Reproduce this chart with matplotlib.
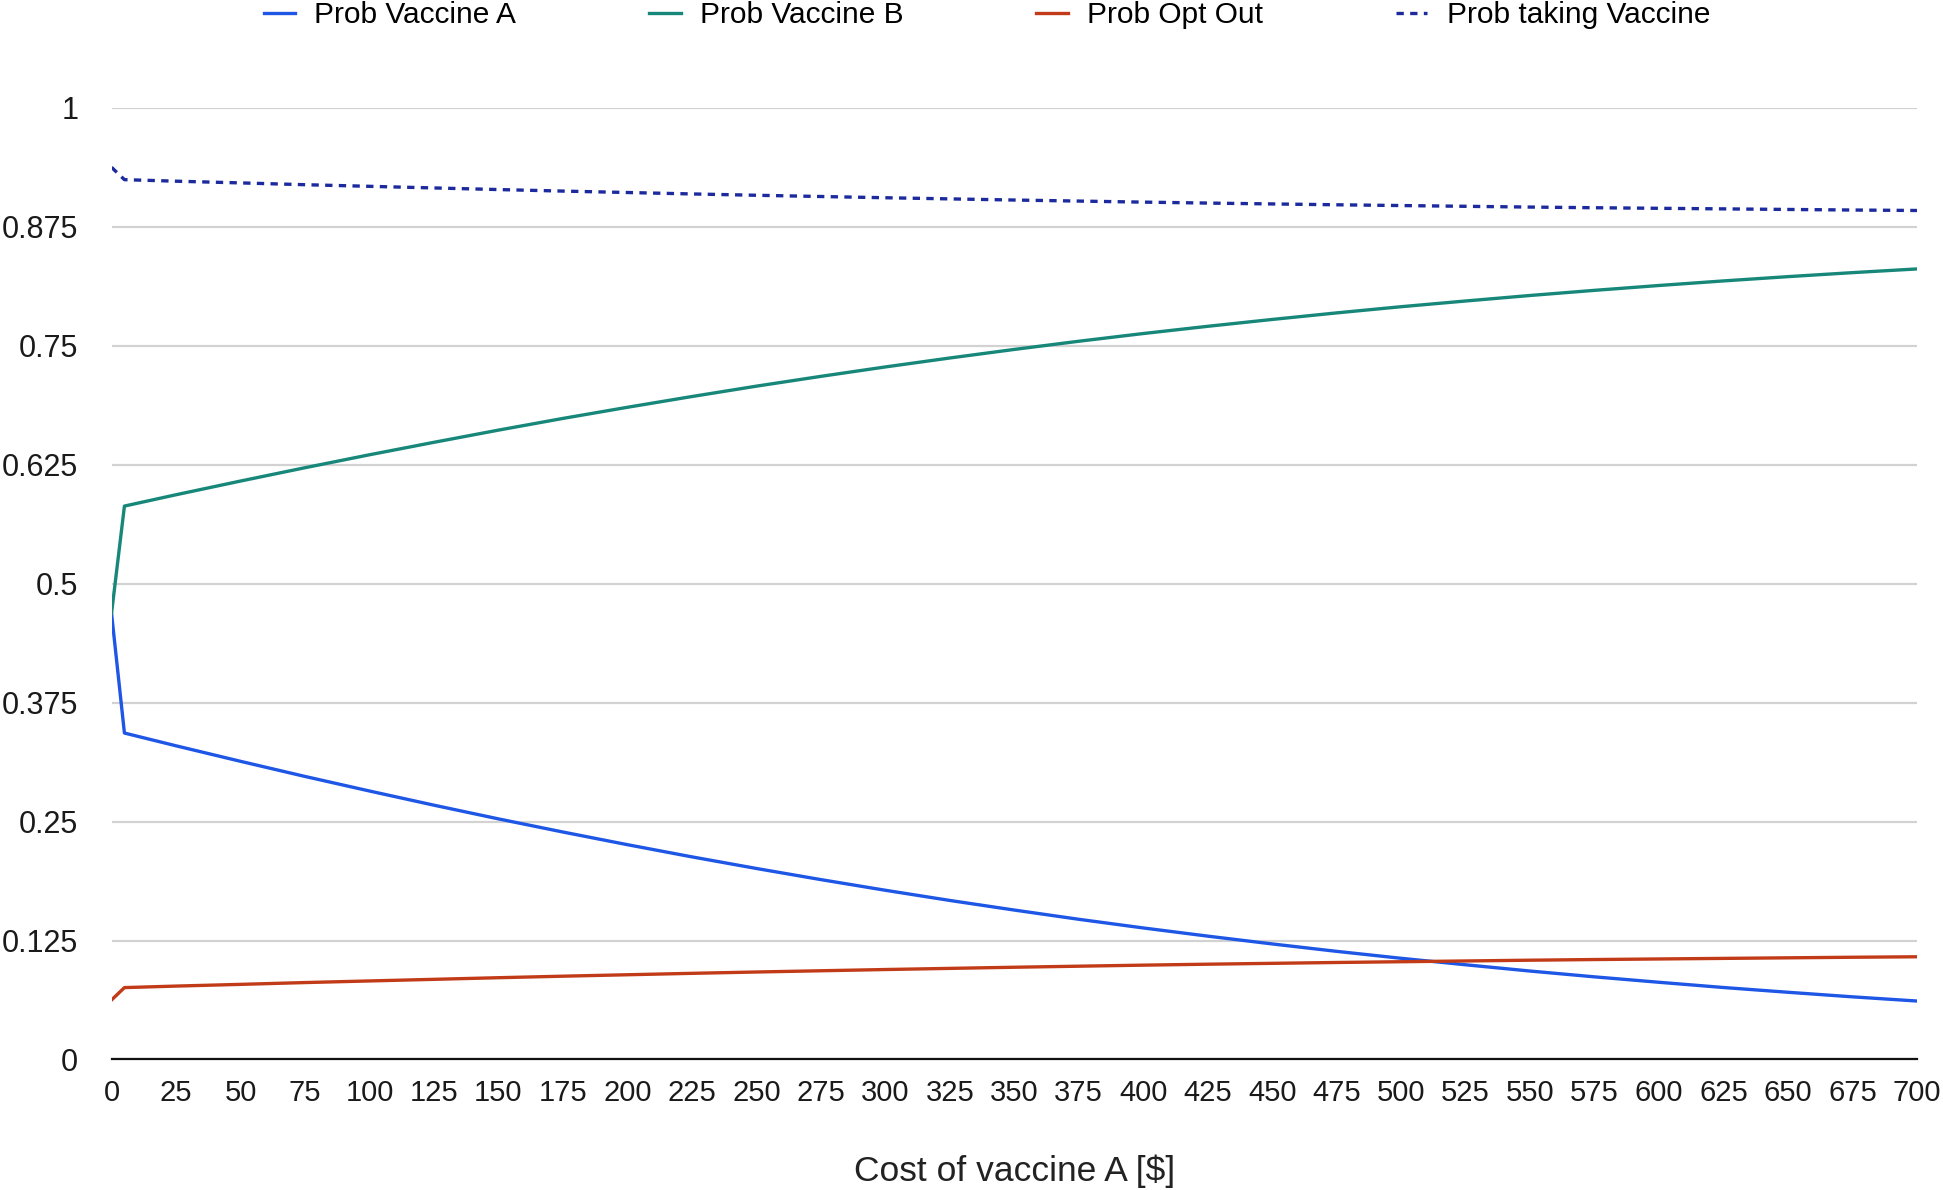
import matplotlib.pyplot as plt

plt.rcParams['font.family'] = ['Liberation Sans', 'DejaVu Sans']

# cost of vaccine A [$]
cost = [0, 5, 25, 50, 75, 100, 125, 150, 175, 200, 225, 250, 275, 300, 325, 350,
        375, 400, 425, 450, 475, 500, 525, 550, 575, 600, 625, 650, 675, 700]

prob_a = [0.4688, 0.3430, 0.3296, 0.3133, 0.2974, 0.2821, 0.2672, 0.2528, 0.2390, 0.2257,
          0.2129, 0.2007, 0.1890, 0.1778, 0.1671, 0.1570, 0.1473, 0.1382, 0.1296, 0.1214,
          0.1136, 0.1063, 0.0995, 0.0929, 0.0868, 0.0811, 0.0756, 0.0706, 0.0658, 0.0614]

prob_b = [0.4688, 0.5815, 0.5934, 0.6078, 0.6218, 0.6354, 0.6485, 0.6613, 0.6736, 0.6853,
          0.6966, 0.7075, 0.7178, 0.7277, 0.7371, 0.7461, 0.7547, 0.7628, 0.7704, 0.7776,
          0.7845, 0.7910, 0.7970, 0.8028, 0.8082, 0.8133, 0.8181, 0.8226, 0.8268, 0.8307]

prob_opt = [0.0625, 0.0755, 0.0771, 0.0789, 0.0808, 0.0825, 0.0842, 0.0859, 0.0875, 0.0890,
            0.0905, 0.0919, 0.0932, 0.0945, 0.0957, 0.0969, 0.0980, 0.0991, 0.1001, 0.1010,
            0.1019, 0.1027, 0.1035, 0.1043, 0.1050, 0.1056, 0.1062, 0.1068, 0.1074, 0.1079]

prob_take = [0.9375, 0.9245, 0.9229, 0.9211, 0.9192, 0.9175, 0.9158, 0.9141, 0.9125, 0.9110,
             0.9095, 0.9081, 0.9068, 0.9055, 0.9043, 0.9031, 0.9020, 0.9009, 0.8999, 0.8990,
             0.8981, 0.8973, 0.8965, 0.8957, 0.8950, 0.8944, 0.8938, 0.8932, 0.8926, 0.8921]

y_ticks = [0, 0.125, 0.25, 0.375, 0.5, 0.625, 0.75, 0.875, 1]
y_labels = ['0', '0.125', '0.25', '0.375', '0.5', '0.625', '0.75', '0.875', '1']
x_ticks = list(range(0, 701, 25))

fig = plt.figure(figsize=(19.43, 11.90), dpi=100)
ax = fig.add_axes([0.0574, 0.1097, 0.9292, 0.7997])

ax.plot(cost, prob_a, color='#1e56e6', linewidth=2.4, label='Prob Vaccine A', zorder=3)
ax.plot(cost, prob_b, color='#17877a', linewidth=2.4, label='Prob Vaccine B', zorder=3)
ax.plot(cost, prob_opt, color='#c23b18', linewidth=2.4, label='Prob Opt Out', zorder=3)
ax.plot(cost, prob_take, color='#1c2a9e', linewidth=2.4, linestyle=(0, (2.2, 1.9)),
        label='Prob taking Vaccine', zorder=3)

ax.set_xlim(0, 700)
ax.set_ylim(0, 1)
ax.set_yticks(y_ticks)
ax.set_yticklabels(y_labels)
ax.set_xticks(x_ticks)
ax.tick_params(axis='both', length=0, labelsize=21, colors='#1a1a1a')
ax.tick_params(axis='y', pad=24, labelsize=22)
ax.tick_params(axis='x', pad=14)

ax.grid(axis='y', color='#d2d2d2', linewidth=1.6)
ax.set_axisbelow(True)
for s in ['top', 'right', 'left']:
    ax.spines[s].set_visible(False)
ax.spines['bottom'].set_color('#111111')
ax.spines['bottom'].set_linewidth(1.6)
ax.spines['bottom'].set_zorder(4)

ax.set_xlabel('Cost of vaccine A [$]', fontsize=25.5, color='#222222', labelpad=34)

fig.legend(loc='center', bbox_to_anchor=(0.508, 0.987), ncol=4, frameon=False,
           fontsize=21.5, handlelength=1.05, handletextpad=0.65, columnspacing=4.45)

fig.savefig('out.png', dpi=100)
